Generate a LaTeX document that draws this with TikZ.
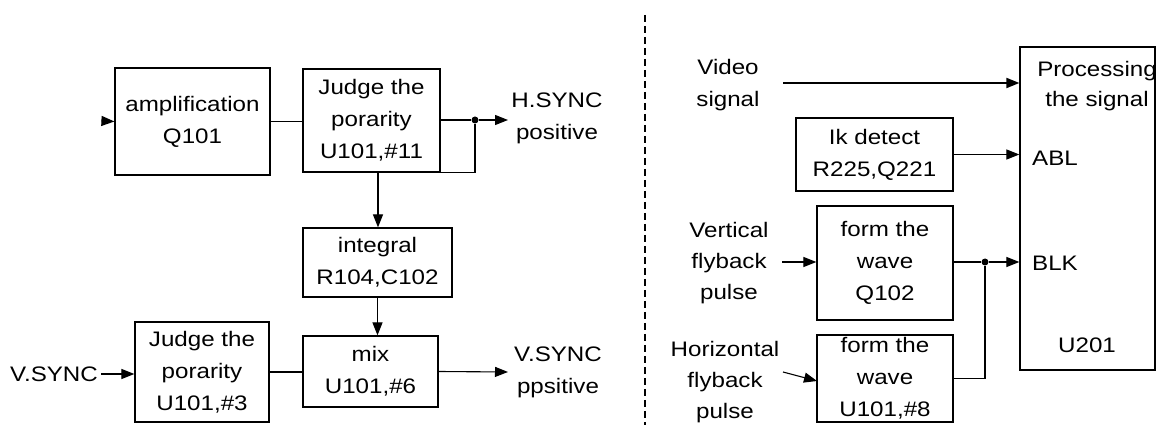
\documentclass[tikz,border=0pt]{standalone}
\usepackage{fontspec}
\setmainfont{Liberation Sans}[FakeStretch=1.15]
\usetikzlibrary{arrows.meta}
\tikzset{
  box/.style={draw, line width=1.2pt, align=center, inner sep=0pt},
  lbl/.style={align=center, inner sep=0pt},
  conn/.style={line width=1.1pt},
  arr/.style={line width=1.1pt, -{Triangle[length=13pt,width=10pt]}},
  junction/.style={circle, fill, inner sep=0pt, minimum size=7pt},
}
\begin{document}
\begin{tikzpicture}[x=1pt,y=-1pt,font=\fontsize{21}{32}\selectfont]
\useasboundingbox (0,0) rectangle (1162,435);
% left part
\node[box, minimum width=155pt, minimum height=107pt] (amp) at (192.5,121.5) {amplification\\Q101};
\node[box, minimum width=137pt, minimum height=103pt] (jud1) at (371.5,120.5) {Judge the\\porarity\\U101,\#11};
\node[box, minimum width=149pt, minimum height=69pt] (intg) at (377.5,262.5) {integral\\R104,C102};
\node[box, minimum width=135pt, minimum height=71pt] (mix) at (370.5,371.5) {mix\\U101,\#6};
\node[box, minimum width=134pt, minimum height=100pt] (jud2) at (202,372) {Judge the\\porarity\\U101,\#3};
\node[lbl] (hsync) at (557,118) {H.SYNC\\positive};
\node[lbl] (vsyncout) at (558,372) {V.SYNC\\ppsitive};
\node[lbl] (vsync) at (54,374) {V.SYNC};
\coordinate (ampin) at (103,121);
\coordinate (vsstart) at (101,374);
\node[junction] (d1) at (475,120) {};
\coordinate (hsend) at (508,120);
\coordinate (vsend) at (508,372);
\draw[arr] (ampin) -- (amp.west);
\draw[conn] (amp.east) -- (jud1.west |- amp.east);
\draw[conn] (jud1.east |- d1) -- (d1);
\draw[arr] (d1) -- (hsend);
\draw[conn] (d1) |- (jud1.south east);
\draw[arr] ([xshift=6.5pt]jud1.south) -- ([xshift=6.5pt]jud1.south |- intg.north);
\draw[arr] (intg.south) -- (intg.south |- mix.north);
\draw[arr] (vsstart) -- (jud2.west |- vsstart);
\draw[conn] (jud2.east) -- (mix.west |- jud2.east);
\draw[arr] (mix.east) -- (vsend);
% divider
\draw[line width=1.1pt, dash pattern=on 7pt off 4pt] (645,15) -- (645,425);
% right part
\node[box, minimum width=135pt, minimum height=323pt] (proc) at (1087.5,208.5) {};
\node[lbl, font=\fontsize{21}{30}\selectfont] (proct) at (1097,86) {Processing\\the signal};
\node[lbl, anchor=west] (abl) at (1032,158) {ABL};
\node[lbl, anchor=west] (blk) at (1032,263) {BLK};
\node[lbl] (u201) at (1087,345) {U201};
\node[box, minimum width=157pt, minimum height=73pt] (ik) at (874.5,154.5) {Ik detect\\R225,Q221};
\node[box, minimum width=136pt, minimum height=114pt] (fw1) at (885,263) {form the\\wave\\Q102};
\node[box, minimum width=136pt, minimum height=87pt] (fw2) at (885,378.5) {form the\\wave\\U101,\#8};
\node[lbl] (video) at (728,85) {Video\\signal};
\node[lbl, font=\fontsize{21}{31}\selectfont] (vfly) at (729,263) {Vertical\\flyback\\pulse};
\node[lbl, font=\fontsize{21}{31}\selectfont] (hfly) at (725,382) {Horizontal\\flyback\\pulse};
\coordinate (vidstart) at (783,83);
\coordinate (vflystart) at (782,262);
\coordinate (hflystart) at (783,372);
\coordinate (hflyend) at (817,381);
\node[junction] (d2) at (985,262) {};
\draw[arr, line width=1.8pt] (vidstart) -- (vidstart -| proc.west);
\draw[arr] (ik.east) -- (ik.east -| proc.west);
\draw[arr] (vflystart) -- (fw1.west |- vflystart);
\draw[arr] (hflystart) -- (hflyend);
\draw[conn] (fw1.east |- d2) -- (d2);
\draw[arr] (d2) -- (d2 -| proc.west);
\draw[conn] (fw2.east) -| (d2);
\end{tikzpicture}
\end{document}
